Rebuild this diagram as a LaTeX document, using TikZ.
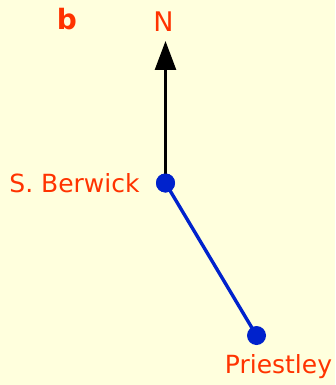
\documentclass[tikz,border=0pt]{standalone}
\usepackage{fontspec}
\setmainfont{DejaVu Sans}
\usetikzlibrary{arrows.meta, positioning}
\definecolor{paper}{RGB}{255,255,221}
\definecolor{labelred}{RGB}{255,51,0}
\definecolor{siteblue}{RGB}{0,34,204}

\begin{document}
\begin{tikzpicture}[x=1pt, y=-1pt,
    site/.style={circle, fill=siteblue, inner sep=0pt, minimum size=19pt},
    sitelabel/.style={text=labelred, font=\fontsize{25}{29}\selectfont, inner sep=0pt}]
  % Background
  \fill[paper] (0,0) rectangle (335,385);
  \useasboundingbox (0,0) rectangle (335,385);

  % Panel letter
  \node[sitelabel, font=\fontsize{28}{32}\selectfont\bfseries] (panel) at (67,19) {b};

  % Sites
  \node[site] (berwick) at (165.5,183) {};
  \node[site] (priestley) at (256.5,335.5) {};
  \node[sitelabel] (berwicklabel) at (74.5,183) {S. Berwick};
  \node[sitelabel] (priestleylabel) at (278.5,367) {Priestley};

  % North arrow
  \node[sitelabel, font=\fontsize{27}{31}\selectfont] (north) at (163.5,22) {N};
  \coordinate (tip) at (165.5,41);
  \draw[line width=2.6pt, -{Triangle[length=29pt, width=21pt]}] (berwick.center) -- (tip);

  % Link between sites
  \draw[siteblue, line width=3.4pt] (berwick.center) -- (priestley.center);
  \node[site] (berwicktop) at (berwick) {};
\end{tikzpicture}
\end{document}
